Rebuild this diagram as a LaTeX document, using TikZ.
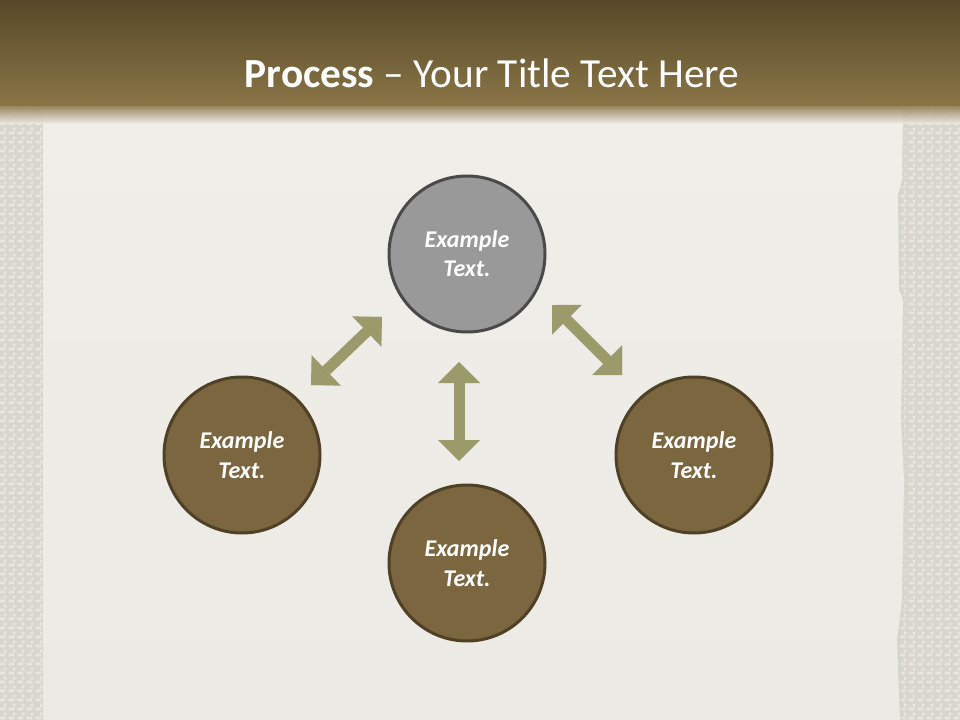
\documentclass[tikz,border=0pt]{standalone}
\usepackage{fontspec}
\setmainfont{Carlito}
\usetikzlibrary{arrows.meta,patterns}
\definecolor{barTop}{HTML}{564829}
\definecolor{barBot}{HTML}{8B7546}
\definecolor{paper}{HTML}{F0EEE9}
\definecolor{paperB}{HTML}{ECEAE4}
\definecolor{burlap}{HTML}{D9D6CE}
\definecolor{weave}{HTML}{E8E6E0}
\definecolor{greyFill}{HTML}{999999}
\definecolor{greyLine}{HTML}{4A4A4A}
\definecolor{brownFill}{HTML}{7B6640}
\definecolor{brownLine}{HTML}{4F4125}
\definecolor{arrowc}{HTML}{9A9A6A}
\pgfdeclarepatternformonly{weavepat}{\pgfpointorigin}{\pgfpoint{6.75pt}{6.75pt}}{\pgfpoint{6.75pt}{6.75pt}}{%
  \pgfpathrectangle{\pgfpoint{0.5pt}{0.6pt}}{\pgfpoint{4.5pt}{2.2pt}}%
  \pgfpathrectangle{\pgfpoint{4pt}{3.6pt}}{\pgfpoint{2.2pt}{2.6pt}}%
  \pgfusepath{fill}}
\tikzset{
  bubble/.style={circle, minimum size=117pt, inner sep=0pt, line width=2.25pt,
    text=white, align=center, font=\bfseries\itshape\fontsize{18}{22}\selectfont},
  greybubble/.style={bubble, fill=greyFill, draw=greyLine},
  brownbubble/.style={bubble, fill=brownFill, draw=brownLine},
  dblarrow/.style={draw=arrowc, line width=8.25pt,
    {Triangle[length=15.75pt,width=31.5pt,line width=0.01pt]}-{Triangle[length=15.75pt,width=31.5pt,line width=0.01pt]}}
}
\begin{document}
\begin{tikzpicture}[x=0.75pt,y=-0.75pt]
\useasboundingbox (0,0) rectangle (960,720);
% burlap background
\fill[burlap] (0,0) rectangle (960,720);
\fill[pattern=weavepat, pattern color=weave] (0,106) rectangle (960,720);
% paper
\fill[black!12!paper, opacity=0.5] (45,110) -- (906,110) -- (905,180) -- (901,195) -- (902,290) -- (906,300) -- (904,420) -- (907,480) -- (905,600) -- (900,640) -- (903,720) -- (45,720) -- cycle;
\shade[top color=paper, bottom color=paperB] (43,110) -- (903,110) -- (902,180) -- (898,195) -- (899,290) -- (903,300) -- (901,420) -- (904,480) -- (902,600) -- (897,640) -- (900,720) -- (43,720) -- cycle;
% title bar
\shade[top color=barTop, bottom color=barBot] (0,0) rectangle (960,106);
\shade[top color=barBot, bottom color=paper, opacity=0.85] (0,105.5) rectangle (960,124);
\node[anchor=base, text=white, font=\fontsize{31}{37}\selectfont, inner sep=0pt] (title) at (492,88) {\textbf{Process} -- Your Title Text Here};
% bubbles
\node[greybubble] (top) at (467,254) {Example\\Text.};
\node[brownbubble] (left) at (242,455) {Example\\Text.};
\node[brownbubble] (bottom) at (467,563) {Example\\Text.};
\node[brownbubble] (right) at (694,455) {Example\\Text.};
% arrows
\coordinate (v1) at (459,362);
\coordinate (v2) at (459,461);
\coordinate (l1) at (311,385);
\coordinate (l2) at (382,317);
\coordinate (r1) at (552,305);
\coordinate (r2) at (622,375);
\draw[dblarrow] (v1) -- (v2);
\draw[dblarrow] (l1) -- (l2);
\draw[dblarrow] (r1) -- (r2);
\end{tikzpicture}
\end{document}
